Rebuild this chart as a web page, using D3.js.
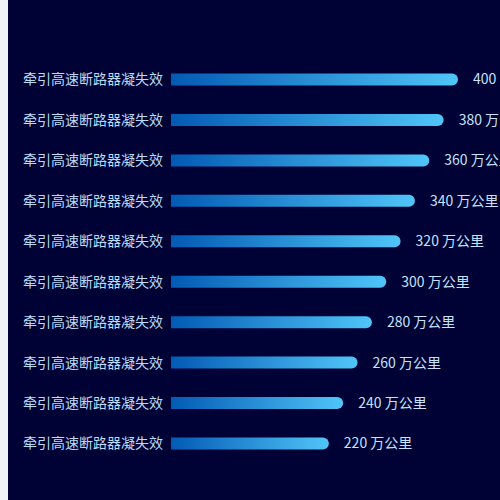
<!DOCTYPE html>
<html><head><meta charset="utf-8">
<script src="https://cdn.jsdelivr.net/npm/d3@7"></script>
<style>html,body{margin:0;padding:0;background:#f0f2f8;overflow:hidden}svg{display:block}</style>
</head><body>
<svg id="c" width="500" height="500"></svg>
<script>
const categories = ["牵引高速断路器凝失效","牵引高速断路器凝失效","牵引高速断路器凝失效","牵引高速断路器凝失效","牵引高速断路器凝失效","牵引高速断路器凝失效","牵引高速断路器凝失效","牵引高速断路器凝失效","牵引高速断路器凝失效","牵引高速断路器凝失效"];
const values = [400, 380, 360, 340, 320, 300, 280, 260, 240, 220];
const unit = "万公里";

const svg = d3.select("#c");
svg.append("rect").attr("x", 8).attr("y", 0).attr("width", 492).attr("height", 500).attr("fill", "#000236");

const defs = svg.append("defs");
const g = defs.append("linearGradient").attr("id", "bg").attr("x1", "0%").attr("x2", "100%").attr("y1", "0%").attr("y2", "0%");
g.append("stop").attr("offset", "0%").attr("stop-color", "#035ab4");
g.append("stop").attr("offset", "100%").attr("stop-color", "#50c5f8");

const idx = categories.map((d, i) => i);
const y = d3.scaleBand().domain(idx).range([59.3, 463.7]).paddingInner(0.7).paddingOuter(0.35);
const x = d3.scaleLinear().domain([0, 400]).range([171, 458]);
const bh = 12;

const rows = svg.append("g").selectAll("g").data(idx).join("g")
  .attr("transform", i => `translate(0,${y(i) + y.bandwidth() / 2})`);

rows.append("path")
  .attr("fill", "url(#bg)")
  .attr("d", i => {
    const x0 = x(0), x1 = x(values[i]), r = bh / 2;
    return `M${x0},${-r}H${x1 - r}A${r},${r} 0 0 1 ${x1},0A${r},${r} 0 0 1 ${x1 - r},${r}H${x0}Z`;
  });

rows.append("text")
  .attr("x", x(0) - 8).attr("y", 0).attr("dy", "0.35em")
  .attr("text-anchor", "end")
  .attr("fill", "#b9dbf5")
  .style("font", "14px 'Noto Sans CJK SC', sans-serif")
  .text(i => categories[i]);

rows.append("text")
  .attr("x", i => x(values[i]) + 15).attr("y", 0).attr("dy", "0.35em")
  .attr("fill", "#c4e2fc")
  .style("font", "14px 'Noto Sans CJK SC', sans-serif")
  .text(i => values[i] + " " + unit);
</script>
</body></html>
